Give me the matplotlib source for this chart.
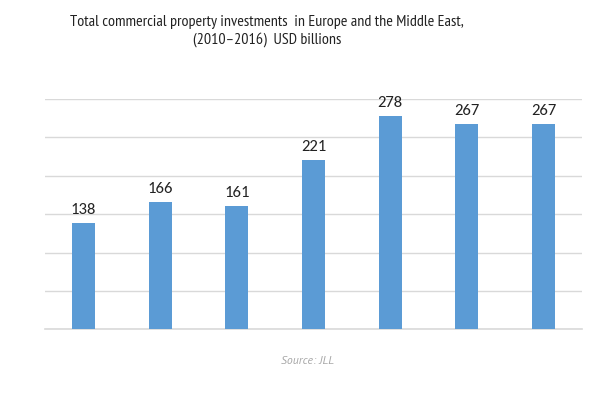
import matplotlib
matplotlib.use("Agg")
import matplotlib.pyplot as plt

years = ["2010", "2011", "2012", "2013", "2014", "2015", "2016"]
values = [138, 166, 161, 221, 278, 267, 267]
title_text = "Total commercial property investments  in Europe and the Middle East,\n(2010\u20132016)  USD billions"
source_text = "Source: JLL"

plt.rcParams['font.family'] = ['PT Sans Narrow', 'DejaVu Sans']

fig = plt.figure(figsize=(6, 3.93), dpi=100)
ax = fig.add_axes([0.075, 0.162, 0.895, 0.586])

x = list(range(len(years)))
ax.bar(x, values, width=0.30, color="#5b9bd5", zorder=3)
for xi, v in zip(x, values):
    ax.text(xi, v + 8, str(v), ha="center", va="bottom", fontsize=12, color="#222222",
            family=["Carlito", "PT Sans", "DejaVu Sans"])

ax.set_xlim(-0.5, len(years) - 0.5)
ax.set_ylim(0, 300)
ax.set_yticks(range(0, 301, 50))
ax.yaxis.grid(True, color="#d9d9d9", linewidth=1.0, zorder=0)
ax.set_yticklabels([])
ax.set_xticks(x)
ax.set_xticklabels([])
ax.tick_params(length=0)
for s in ax.spines.values():
    s.set_visible(False)
ax.spines["bottom"].set_visible(True)
ax.spines["bottom"].set_color("#d9d9d9")
ax.spines["bottom"].set_linewidth(1.2)

fig.text(0.445, 0.921, title_text, ha="center", va="center", fontsize=11.5,
         color="#222222", linespacing=1.2)
fig.text(0.513, 0.082, source_text, ha="center", va="center", fontsize=8.5,
         style="italic", color="#a6a6a6", family=["PT Sans", "DejaVu Sans"])

fig.savefig("out.png", dpi=100)
